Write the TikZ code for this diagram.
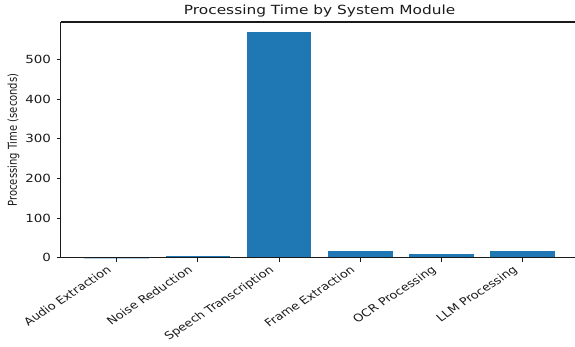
\documentclass[tikz,border=0pt]{standalone}
\usepackage{fontspec}
\setmainfont{DejaVu Sans}
\definecolor{barblue}{HTML}{1F77B4}
\definecolor{ink}{HTML}{1A1A1A}
\begin{document}
\begin{tikzpicture}[x=1pt,y=-1pt,
  spine/.style={line width=1.1pt, draw=ink},
  tickmark/.style={line width=0.9pt, draw=ink},
  bar/.style={fill=barblue, draw=none},
  ticktext/.style={font=\fontsize{11.2}{13}\selectfont, text=ink, inner sep=0pt},
  catlabel/.style={font=\fontsize{10.6}{13}\selectfont, text=ink, inner sep=0pt,
    xscale=1.22, rotate=38.5, anchor=base east},
  labeltext/.style={font=\fontsize{10}{12}\selectfont, text=ink, inner sep=0pt},
  titletext/.style={font=\fontsize{12.6}{15}\selectfont, text=ink, inner sep=0pt}]
\useasboundingbox (0,0) rectangle (575,347);
% plot frame: left 60.7, top 22, baseline 257.7; 0.3966 px per second
\foreach \i/\v/\lab in {0/0.05/Audio Extraction, 1/3.2/Noise Reduction,
    2/568/Speech Transcription, 3/17/Frame Extraction,
    4/10.5/OCR Processing, 5/17/LLM Processing} {
  \pgfmathsetmacro\cx{116.7+81.2*\i}
  \pgfmathsetmacro\bartop{257.7-0.3966*\v}
  \fill[bar] (\cx-32.3,257.7) rectangle (\cx+32.3,\bartop);
  \draw[tickmark] (\cx,257.7) -- (\cx,261.7);
  \node[catlabel] (xl\i) at (\cx-4.5,271.5) {\lab};
}
% value axis
\foreach \v in {0,100,...,500} {
  \pgfmathsetmacro\ty{257.7-0.3966*\v}
  \draw[tickmark] (56.7,\ty) -- (60.7,\ty);
  \node[ticktext, xscale=1.2, anchor=east] (yl\v) at (51.2,\ty) {\v};
}
% spines
\draw[spine] (60.7,22) -- (575,22);
\draw[spine] (60.7,257.7) -- (575,257.7);
\draw[spine] (60.7,22) -- (60.7,257.7);
% axis label and title
\node[labeltext, xscale=1.22, rotate=90] (ylabel) at (13.5,140) {Processing Time (seconds)};
\node[titletext, xscale=1.22, anchor=base] (title) at (319.6,15) {Processing Time by System Module};
\end{tikzpicture}
\end{document}
